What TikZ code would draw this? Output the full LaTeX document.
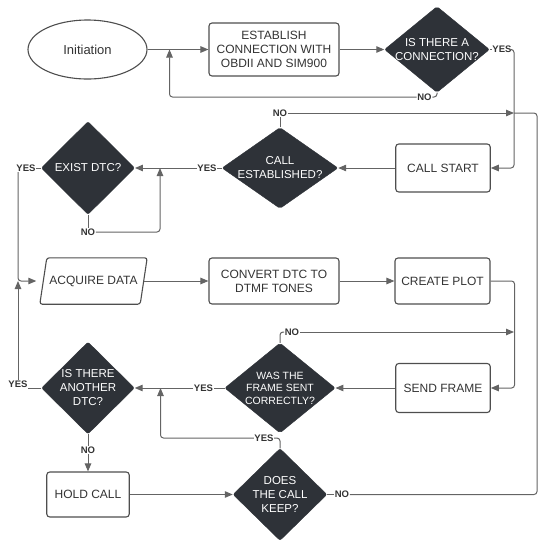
\documentclass[tikz,border=0pt]{standalone}
\usepackage{fontspec}
\setmainfont{Liberation Sans}
\usetikzlibrary{shapes.geometric,arrows.meta}
\definecolor{dark}{HTML}{2E3238}
\definecolor{edge}{HTML}{646464}
\definecolor{boxline}{HTML}{4E4E4E}
\definecolor{txt}{HTML}{333333}

\begin{document}
\begin{tikzpicture}[x=1pt,y=-1pt,
   every node/.style={font=\fontsize{11.5}{14}\selectfont,text=txt,align=center},
   process/.style={draw=boxline,line width=1.1pt,rounded corners=3pt,inner sep=0pt,font=\fontsize{12}{14}\selectfont},
   decision/.style={diamond,fill=dark,draw=dark,rounded corners=2pt,text=white,inner sep=-10pt},
   answer/.style={font=\bfseries\fontsize{9.5}{11}\selectfont,inner sep=0.5pt,fill=white},
   flow/.style={draw=edge,line width=1pt,rounded corners=3pt},
   arr/.style={flow,-{Triangle[length=8pt,width=6.5pt]}}]
\useasboundingbox (0,0) rectangle (550,550);

\node[ellipse,draw=boxline,line width=1.1pt,minimum width=119pt,minimum height=59pt,font=\fontsize{13}{15}\selectfont] (init) at (87.5,49.5) {Initiation};
\node[process,minimum width=130pt,minimum height=53pt] (est) at (274,49.5) {ESTABLISH\\CONNECTION WITH\\OBDII AND SIM900};
\node[decision,minimum width=105pt,minimum height=86pt] (d1) at (437,49.5) {IS THERE A\\CONNECTION?};
\node[process,minimum width=94.5pt,minimum height=48pt] (cs) at (443,168) {CALL START};
\node[decision,minimum width=116pt,minimum height=81pt] (ce) at (280,168) {CALL\\ESTABLISHED?};
\node[decision,minimum width=93.5pt,minimum height=93pt] (ed) at (88,168) {EXIST DTC?};
\node[inner sep=0pt,minimum width=107pt,minimum height=46pt,font=\fontsize{12}{14}\selectfont] (ad) at (93.5,281) {ACQUIRE DATA};
\draw[boxline,line width=1.1pt,rounded corners=2.5pt] ([xshift=7pt]ad.north west) -- (ad.north east)
   -- ([xshift=-7pt]ad.south east) -- (ad.south west) -- cycle;
\node[process,minimum width=130pt,minimum height=46pt] (cv) at (274,281) {CONVERT DTC TO\\DTMF TONES};
\node[process,minimum width=95pt,minimum height=46pt] (cp) at (442.5,281) {CREATE PLOT};
\node[process,minimum width=94.5pt,minimum height=49pt] (sf) at (443,388) {SEND FRAME};
\node[decision,minimum width=110.5pt,minimum height=90pt,font=\fontsize{10.5}{12.5}\selectfont] (wf) at (280,388) {WAS THE\\FRAME SENT\\CORRECTLY?};
\node[decision,minimum width=93pt,minimum height=92pt] (ia) at (88,388) {IS THERE\\ANOTHER\\DTC?};
\node[process,minimum width=82.5pt,minimum height=45pt] (hc) at (88,494.5) {HOLD CALL};
\node[decision,minimum width=94pt,minimum height=92pt] (dk) at (280,494.5) {DOES\\THE CALL\\KEEP?};

\node[answer] (yes1) at (502,49.5) {YES};
\node[answer] (no1) at (424.5,97) {NO};
\node[answer] (no2) at (280,113) {NO};
\node[answer] (yes2) at (207,168) {YES};
\node[answer] (no3) at (88,232) {NO};
\node[answer] (yes3) at (26,168) {YES};
\node[answer] (no5) at (292,332) {NO};
\node[answer] (yes6) at (203.5,388) {YES};
\node[answer] (yes4) at (18,384) {YES};
\node[answer] (no4) at (88,450) {NO};
\node[answer] (yes5) at (264,438) {YES};
\node[answer] (no6) at (342,494.5) {NO};

\coordinate (c1) at (514,49.5);
\coordinate (m1) at (169.5,49.5);
\coordinate (m2) at (514,113);
\coordinate (r1) at (537,113);
\coordinate (m3) at (160,168);
\coordinate (m4) at (18,281);
\coordinate (m5) at (160.5,388);
\coordinate (m6) at (514,332);

\draw[arr] (init) -- (est);
\draw[arr] (est) -- (d1);
\draw[flow] (d1) -- (yes1);
\draw[arr] (yes1.east) -- (c1) |- (cs);
\draw[flow] (d1.south) |- (no1.east);
\draw[arr] (no1.west) -| (m1);
\draw[arr] (cs) -- (ce);
\draw[flow] (ce) -- (no2);
\draw[arr] (no2) -- (m2);
\draw[flow] (ce) -- (yes2);
\draw[arr] (yes2) -- (ed);
\draw[flow] (ed) -- (no3);
\draw[arr] (no3.east) -| (m3);
\draw[flow] (ed) -- (yes3);
\draw[arr,shorten >=3.5pt] (yes3.south -| m4) |- (ad.west);
\draw[arr,shorten <=-3.5pt] (ad) -- (cv);
\draw[arr] (cv) -- (cp);
\draw[arr] (cp.east) -- ++(24,0) |- (sf);
\draw[arr] (sf) -- (wf);
\draw[flow] (wf.north) |- (no5.west);
\draw[arr] (no5) -- (m6);
\draw[flow] (wf) -- (yes6);
\draw[arr] (yes6) -- (ia);
\draw[flow] (ia.west) -- (ia.west -| yes4.east);
\draw[arr] (yes4.north) -- (m4);
\draw[flow] (ia) -- (no4);
\draw[arr] (no4) -- (hc);
\draw[arr] (hc) -- (dk);
\draw[flow] (dk.north) |- (yes5.east);
\draw[arr] (yes5.west) -| (m5);
\draw[flow] (dk) -- (no6);
\draw[flow] (no6) -| (r1) -- (m2);
\end{tikzpicture}
\end{document}
